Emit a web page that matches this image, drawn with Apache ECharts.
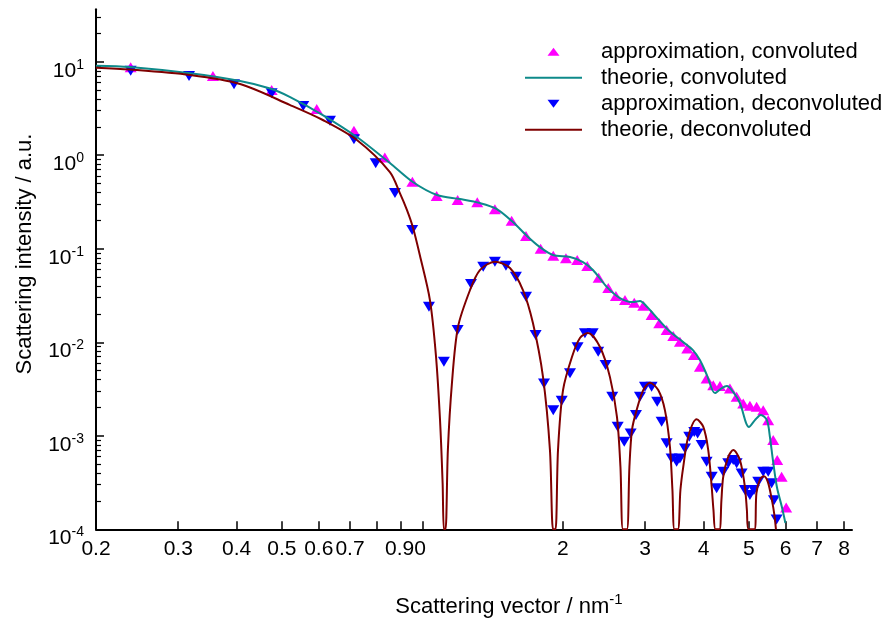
<!DOCTYPE html>
<html>
<head>
<meta charset="utf-8">
<script src="https://cdn.jsdelivr.net/npm/echarts@6/dist/echarts.min.js"></script>
<style>
  html, body { margin: 0; padding: 0; background: #fff; }
  #chart { width: 890px; height: 621px; }
</style>
</head>
<body>
<div id="chart"></div>
<script>
// Scattering curves (q in nm^-1, intensity in a.u.)
const theoryConvQ = [0.2, 0.2365, 0.318, 0.407, 0.472, 0.521, 0.612, 0.724, 0.852, 0.954, 1.075, 1.204, 1.328, 1.444, 1.563, 1.675, 1.786, 1.905, 2.071, 2.208, 2.319, 2.485, 2.649, 2.825, 2.924, 3.027, 3.180, 3.390, 3.614, 3.797, 3.930, 4.068, 4.232, 4.380, 4.490, 4.625, 4.787, 5.005, 5.155, 5.310, 5.469, 5.550, 5.633, 5.745, 5.888, 5.990];
const theoryConvI = [9.06, 8.78, 7.52, 6.22, 5.17, 4.19, 2.69, 1.566, 0.825, 0.517, 0.375, 0.340, 0.308, 0.266, 0.193, 0.137, 0.104, 0.0856, 0.0815, 0.0721, 0.0592, 0.0389, 0.0297, 0.0269, 0.0276, 0.0240, 0.0182, 0.0130, 0.0101, 0.00825, 0.00645, 0.00446, 0.00286, 0.00324, 0.0034, 0.00296, 0.00224, 0.00124, 0.00147, 0.00167, 0.00147, 0.000976, 0.00055, 0.000283, 0.000173, 0.000117];

const theoryDeconvQ = [0.2, 0.2365, 0.318, 0.407, 0.521, 0.612, 0.724, 0.852, 0.895, 0.927, 0.954, 0.988, 1.038, 1.069, 1.091, 1.105, 1.112, 1.121, 1.134, 1.157, 1.192, 1.265, 1.328, 1.430, 1.540, 1.642, 1.725, 1.813, 1.876, 1.905, 1.928, 1.952, 2.001, 2.091, 2.175, 2.263, 2.401, 2.522, 2.611, 2.656, 2.689, 2.742, 2.776, 2.811, 2.876, 2.972, 3.072, 3.200, 3.307, 3.390, 3.432, 3.466, 3.526, 3.570, 3.620, 3.710, 3.867, 3.995, 4.095, 4.165, 4.202, 4.243, 4.327, 4.370, 4.409, 4.519, 4.632, 4.787, 4.906, 4.955, 4.992, 5.142, 5.193, 5.284, 5.389, 5.496, 5.606, 5.675, 5.718];
const theoryDeconvI = [8.63, 8.25, 7.21, 5.77, 3.44, 2.38, 1.454, 0.661, 0.394, 0.2594, 0.1706, 0.0846, 0.02827, 0.00728, 0.00147, 0.000312, 0.0001, 0.0001, 0.000703, 0.00366, 0.01455, 0.0362, 0.0592, 0.0726, 0.0622, 0.0362, 0.01604, 0.00424, 0.000703, 0.0001, 0.0001, 0.000703, 0.00308, 0.00695, 0.01109, 0.01254, 0.00889, 0.00424, 0.00158, 0.000463, 0.0001, 0.0001, 0.000463, 0.00115, 0.00188, 0.00308, 0.00369, 0.00308, 0.00188, 0.000763, 0.000263, 0.0001, 0.0001, 0.000263, 0.000466, 0.000976, 0.0015, 0.00125, 0.000703, 0.000285, 0.00016, 0.0001, 0.0001, 0.000205, 0.000364, 0.000596, 0.000703, 0.00055, 0.000285, 0.00016, 0.0001, 0.0001, 0.000244, 0.00034, 0.00037, 0.00032, 0.000205, 0.000142, 0.0001];

const approxConvQ = [0.2373, 0.356, 0.4756, 0.594, 0.7136, 0.831, 0.952, 1.073, 1.190, 1.311, 1.430, 1.553, 1.667, 1.792, 1.907, 2.030, 2.146, 2.255, 2.385, 2.501, 2.597, 2.716, 2.843, 2.972, 3.097, 3.216, 3.335, 3.446, 3.561, 3.692, 3.815, 3.930, 4.062, 4.197, 4.338, 4.557, 4.710, 4.866, 5.029, 5.198, 5.370, 5.504, 5.642, 5.754, 5.880, 6.014];
const approxConvI = [8.71, 7.03, 4.98, 3.12, 1.828, 0.945, 0.521, 0.366, 0.332, 0.3134, 0.2638, 0.1993, 0.1367, 0.1, 0.0842, 0.0789, 0.0757, 0.0653, 0.049, 0.038, 0.0312, 0.02827, 0.02645, 0.02457, 0.01954, 0.01593, 0.0135, 0.01165, 0.0101, 0.0086, 0.0073, 0.00547, 0.00411, 0.00348, 0.0034, 0.00321, 0.00261, 0.00222, 0.00209, 0.00204, 0.00188, 0.00147, 0.0009, 0.00055, 0.000364, 0.000171];

const approxDeconvQ = [0.2373, 0.3164, 0.395, 0.4756, 0.5558, 0.634, 0.7136, 0.7944, 0.8736, 0.951, 1.033, 1.112, 1.190, 1.271, 1.350, 1.430, 1.510, 1.586, 1.667, 1.748, 1.822, 1.907, 1.988, 2.071, 2.150, 2.229, 2.316, 2.380, 2.469, 2.551, 2.620, 2.706, 2.793, 2.867, 2.924, 2.997, 3.097, 3.184, 3.254, 3.335, 3.418, 3.503, 3.561, 3.651, 3.729, 3.822, 3.886, 3.964, 4.062, 4.165, 4.268, 4.409, 4.519, 4.632, 4.710, 4.827, 4.906, 5.029, 5.130, 5.240, 5.370, 5.504, 5.597, 5.661, 5.737];
const approxDeconvI = [8.01, 7.03, 5.73, 4.59, 3.36, 2.34, 1.479, 0.819, 0.394, 0.1585, 0.024, 0.00618, 0.0135, 0.0419, 0.0642, 0.0726, 0.0658, 0.0502, 0.0307, 0.01194, 0.00363, 0.00188, 0.002367, 0.00465, 0.00882, 0.01245, 0.01245, 0.00792, 0.0057, 0.002614, 0.00125, 0.000863, 0.00106, 0.001665, 0.002614, 0.00334, 0.00334, 0.00231, 0.00141, 0.00083, 0.000573, 0.000527, 0.000573, 0.000733, 0.000976, 0.0011, 0.00106, 0.000795, 0.000527, 0.000364, 0.000274, 0.000412, 0.000507, 0.00055, 0.000507, 0.000396, 0.000263, 0.000232, 0.000263, 0.000322, 0.000412, 0.000412, 0.00031, 0.000205, 0.000127];

// Axis ticks and labels
const xTickValues = [0.2, 0.3, 0.4, 0.5, 0.6, 0.7, 0.8, 0.9, 1, 2, 3, 4, 5, 6, 7, 8];
const xLabelValues = [0.2, 0.3, 0.4, 0.5, 0.6, 0.7, 0.92, 2, 3, 4, 5, 6, 7, 8];
const xLabelTexts = ['0.2', '0.3', '0.4', '0.5', '0.6', '0.7', '0.90', '2', '3', '4', '5', '6', '7', '8'];
const yDecades = [-4, -3, -2, -1, 0, 1];

const FONT = '"Liberation Sans", Arial, Helvetica, sans-serif';
const X_MIN = 0.2, X_MAX = 8.32;
const Y_MIN = -4, Y_MAX = 1.5604;
const TEAL = '#0e8a8a', DARKRED = '#7f0000';

const lg = v => Math.log10(v);
const toPairs = (xs, ys) => xs.map((x, i) => [lg(x), lg(ys[i])]);

// minor ticks 2..9 of every decade inside the range
const yMinor = [];
yDecades.forEach(d => {
  for (let k = 2; k <= 9; k++) {
    const v = d + lg(k);
    if (v < Y_MAX) yMinor.push(v);
  }
});

const UP = 'path://M6,0L12,8L0,8Z';
const DOWN = 'path://M0,0L12,0L6,8Z';
// plain bar used as legend icon for the curves (no symbol in the middle)
const BAR = 'path://M0,0L57,0L57,2L0,2Z';

const chart = echarts.init(document.getElementById('chart'));

chart.setOption({
  animation: false,
  backgroundColor: '#fff',
  textStyle: { fontFamily: FONT },
  grid: { left: 96, right: 38, top: 9.3, bottom: 91.7, containLabel: false },
  legend: {
    orient: 'vertical',
    left: 525,
    top: 38.7,
    padding: 0,
    itemGap: 0,
    itemWidth: 57,
    itemHeight: 8,
    selectedMode: false,
    data: [
      { name: 'approximation, convoluted' },
      { name: 'theorie, convoluted', icon: BAR, itemStyle: { color: TEAL } },
      { name: 'approximation, deconvoluted' },
      { name: 'theorie, deconvoluted', icon: BAR, itemStyle: { color: DARKRED } }
    ],
    textStyle: { fontSize: 22, color: '#000', fontFamily: FONT, lineHeight: 26, padding: [0, 0, 0, 14] }
  },
  xAxis: {
    type: 'value',
    min: lg(X_MIN),
    max: lg(X_MAX),
    axisLine: { onZero: false, lineStyle: { color: '#000', width: 2 } },
    axisTick: { inside: true, length: 8, lineStyle: { color: '#000', width: 1.5 }, customValues: xTickValues.map(lg) },
    axisLabel: {
      customValues: xLabelValues.map(lg),
      formatter: v => {
        const i = xLabelValues.findIndex(x => Math.abs(lg(x) - v) < 1e-6);
        return i >= 0 ? xLabelTexts[i] : '';
      },
      color: '#000', fontSize: 21, fontFamily: FONT, margin: 9
    },
    splitLine: { show: false }
  },
  yAxis: [
    {
      type: 'value',
      position: 'left',
      min: Y_MIN,
      max: Y_MAX,
      axisLine: { show: true, onZero: false, lineStyle: { color: '#000', width: 2 } },
      axisTick: { show: true, inside: true, length: 8, lineStyle: { color: '#000', width: 1.5 }, customValues: yDecades },
      axisLabel: {
        customValues: yDecades,
        formatter: v => '{b|10}{s|' + v + '}',
        margin: 12,
        padding: [18, 0, 0, 0],
        rich: {
          b: { fontSize: 21, color: '#000', fontFamily: FONT },
          s: { fontSize: 14, color: '#000', fontFamily: FONT, padding: [0, 0, 12, 0] }
        }
      },
      splitLine: { show: false }
    },
    {
      type: 'value',
      position: 'left',
      min: Y_MIN,
      max: Y_MAX,
      axisLine: { show: false, onZero: false },
      axisTick: { show: true, inside: true, length: 5, lineStyle: { color: '#000', width: 1.2 }, customValues: yMinor },
      axisLabel: { show: false },
      splitLine: { show: false }
    }
  ],
  graphic: [
    {
      type: 'text',
      x: 25,
      y: 254,
      rotation: Math.PI / 2,
      style: { text: 'Scattering intensity / a.u.', fontSize: 22, fontFamily: FONT, fill: '#000', align: 'center', verticalAlign: 'middle' }
    },
    {
      type: 'text',
      x: 509,
      y: 607,
      style: {
        text: '{a|Scattering vector / nm}{s|-1}',
        align: 'center',
        verticalAlign: 'middle',
        rich: {
          a: { fontSize: 22, fontFamily: FONT, fill: '#000' },
          s: { fontSize: 15, fontFamily: FONT, fill: '#000', padding: [0, 0, 14, 0] }
        }
      }
    }
  ],
  series: [
    {
      name: 'approximation, convoluted',
      type: 'scatter',
      data: toPairs(approxConvQ, approxConvI),
      symbol: UP,
      symbolSize: [12, 10],
      itemStyle: { color: '#ff00ff', opacity: 1 }
    },
    {
      name: 'approximation, deconvoluted',
      type: 'scatter',
      data: toPairs(approxDeconvQ, approxDeconvI),
      symbol: DOWN,
      symbolSize: [12, 10],
      itemStyle: { color: '#0000ff', opacity: 1 }
    },
    {
      name: 'theorie, convoluted',
      type: 'line',
      data: toPairs(theoryConvQ, theoryConvI),
      symbol: 'none',
      smooth: 0.3,
      lineStyle: { color: TEAL, width: 2 },
      itemStyle: { color: TEAL }
    },
    {
      name: 'theorie, deconvoluted',
      type: 'line',
      data: toPairs(theoryDeconvQ, theoryDeconvI),
      symbol: 'none',
      smooth: 0.3,
      lineStyle: { color: DARKRED, width: 2 },
      itemStyle: { color: DARKRED }
    }
  ]
});
</script>
</body>
</html>
